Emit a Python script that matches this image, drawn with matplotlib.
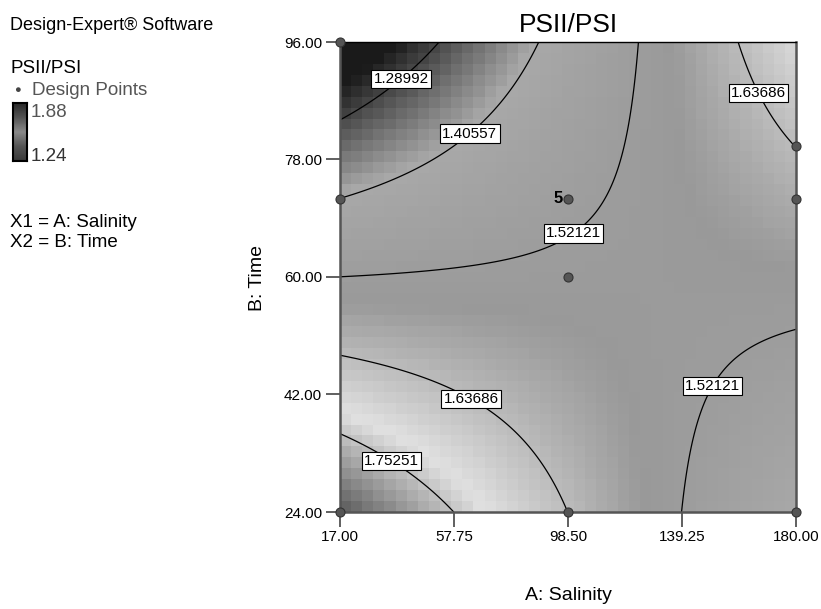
"""
Design-Expert style contour plot of PSII/PSI against salinity and time.
The response surface is the fitted 2FI model (coded factors), with the
design points and the five contour levels shown in the original figure.
"""

import numpy as np
import matplotlib
matplotlib.use("Agg")
import matplotlib.pyplot as plt
from matplotlib.colors import LinearSegmentedColormap

# factor ranges (actual units)
salinity_range = [17.0, 180.0]
time_range = [24.0, 96.0]

# fitted model in coded units: intercept, A, B, AB
model_coefs = [1.538, 0.0165, -0.0985, 0.248]

# contour levels printed on the chart
contour_levels = [1.28992, 1.40557, 1.52121, 1.63686, 1.75251]

# design points (A: salinity, B: time), replicate count at each point
design_salinity = [17.0, 17.0, 17.0, 98.5, 98.5, 98.5, 180.0, 180.0, 180.0]
design_time = [96.0, 72.0, 24.0, 72.0, 60.0, 24.0, 80.0, 72.0, 24.0]
design_reps = [1, 1, 1, 5, 1, 1, 1, 1, 1]

# colour range shown in the legend
response_min = 1.24
response_max = 1.88

x_ticks = [17.00, 57.75, 98.50, 139.25, 180.00]
y_ticks = [24.00, 42.00, 60.00, 78.00, 96.00]

W, H = 821, 609


def px(x, y):
    """Pixel position (top-left origin) -> figure fraction."""
    return x / W, 1 - y / H


def coded(v, lo, hi):
    return (np.asarray(v) - (lo + hi) / 2) / ((hi - lo) / 2)


def predict(a, b):
    x = coded(a, *salinity_range)
    y = coded(b, *time_range)
    b0, ba, bb, bab = model_coefs
    return b0 + ba * x + bb * y + bab * x * y


# rainbow gradient (blue-cyan-green-yellow-red) as it looks in grayscale
gray_cmap = LinearSegmentedColormap.from_list(
    "de_gray",
    [(0.0, (0.10, 0.10, 0.10)),
     (0.25, (0.66, 0.66, 0.66)),
     (0.5, (0.60, 0.60, 0.60)),
     (0.75, (0.88, 0.88, 0.88)),
     (1.0, (0.30, 0.30, 0.30))],
)

plt.rcParams["font.family"] = ["Liberation Sans", "DejaVu Sans"]
fig = plt.figure(figsize=(W / 100, H / 100), dpi=100)

ax = fig.add_axes([340 / W, (H - 512) / H, (796 - 340) / W, (512 - 42) / H])

# pixelated gradient
a_edges = np.linspace(*salinity_range, 42)
b_edges = np.linspace(*time_range, 44)
a_mid = (a_edges[:-1] + a_edges[1:]) / 2
b_mid = (b_edges[:-1] + b_edges[1:]) / 2
AA, BB = np.meshgrid(a_mid, b_mid)
ax.pcolormesh(a_edges, b_edges, predict(AA, BB), cmap=gray_cmap,
              vmin=response_min, vmax=response_max, shading="flat")

# smooth contour lines
a_fine = np.linspace(*salinity_range, 300)
b_fine = np.linspace(*time_range, 300)
AF, BF = np.meshgrid(a_fine, b_fine)
cs = ax.contour(AF, BF, predict(AF, BF), levels=contour_levels,
                colors="black", linewidths=0.9)
label_spots = [(37.0, 91.3), (61.6, 82.9), (98.5, 67.9), (166.8, 88.2),
               (65.4, 42.5), (37.2, 33.0), (148.2, 43.8)]
labels = ax.clabel(cs, fmt="%.5f", fontsize=11, inline=False,
                   manual=label_spots, colors="black")
for t in labels:
    t.set_rotation(0)
    t.set_bbox(dict(facecolor="white", edgecolor="black", linewidth=0.8,
                    boxstyle="square,pad=0.15"))

# design points
ax.plot(design_salinity, design_time, "o", ms=6.5, mfc="#555555",
        mec="#333333", mew=0.8, clip_on=False, zorder=5)
for a, b, n in zip(design_salinity, design_time, design_reps):
    if n > 1:
        ax.annotate(str(n), (a, b), xytext=(-4, 0), textcoords="offset points",
                    ha="right", va="center", fontsize=12, fontweight="bold")

ax.set_xlim(*salinity_range)
ax.set_ylim(*time_range)
ax.set_xticks(x_ticks)
ax.set_yticks(y_ticks)
ax.set_xticklabels([f"{v:.2f}" for v in x_ticks])
ax.set_yticklabels([f"{v:.2f}" for v in y_ticks])
ax.tick_params(direction="out", width=1.2, color="#444444", labelsize=11)
ax.tick_params(axis="x", length=11, pad=2)
ax.tick_params(axis="y", length=10, pad=3)
for side in ["left", "bottom", "right"]:
    ax.spines[side].set_color("#555555")
    ax.spines[side].set_linewidth(1.8)
ax.spines["top"].set_color("black")
ax.spines["top"].set_linewidth(1.0)

ax.set_title("PSII/PSI", fontsize=19, pad=7)
fig.text(*px(568, 595), "A: Salinity", ha="center", va="center", fontsize=14)
fig.text(*px(258, 278), "B: Time", ha="center", va="center", fontsize=14,
         rotation=90)

# side legend
fig.text(*px(10, 30), "Design-Expert® Software", va="baseline", fontsize=13)
fig.text(*px(10, 73), "PSII/PSI", va="baseline", fontsize=13.5)
fig.text(*px(32, 95), "Design Points", va="baseline", fontsize=13.5,
         color="#555555")
fig.text(*px(17.5, 90), "●", ha="center", va="center", fontsize=8,
         color="#444444")
fig.text(*px(31, 117), f"{response_max:.2f}", va="baseline", fontsize=13.5,
         color="#555555")
fig.text(*px(31, 160.5), f"{response_min:.2f}", va="baseline", fontsize=13.5,
         color="#333333")
bar_ax = fig.add_axes([13 / W, (H - 161) / H, 14 / W, 58 / H])
bar_ax.imshow(np.linspace(0, 1, 50).reshape(-1, 1), aspect="auto",
              cmap=LinearSegmentedColormap.from_list(
                  "bar", ["#2a2a2a", "#555555", "#8a8a8a", "#555555", "#3a3a3a"]),
              origin="upper")
bar_ax.set_xticks([])
bar_ax.set_yticks([])
for s in bar_ax.spines.values():
    s.set_linewidth(1.5)
fig.text(*px(10, 227), "X1 = A: Salinity", va="baseline", fontsize=13.5)
fig.text(*px(10, 247), "X2 = B: Time", va="baseline", fontsize=13.5)

fig.savefig("out.png", dpi=100)
